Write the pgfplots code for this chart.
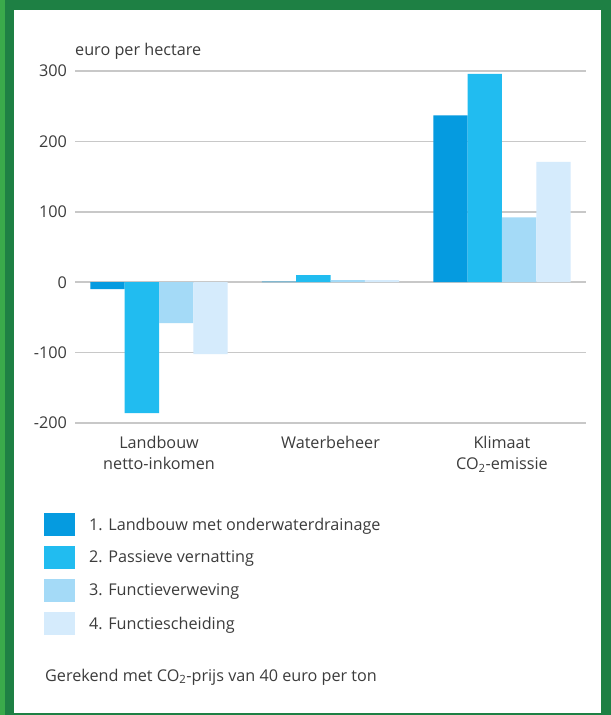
\documentclass[border=0pt]{standalone}
\usepackage{pgfplots}
\pgfplotsset{compat=1.18}
\usepackage{fontspec}
\setmainfont{Open Sans}
\definecolor{cA}{RGB}{5,155,224}
\definecolor{cB}{RGB}{33,188,240}
\definecolor{cC}{RGB}{164,218,247}
\definecolor{cD}{RGB}{213,235,252}
\definecolor{txt}{RGB}{60,60,60}
\definecolor{gridc}{RGB}{200,200,200}
\definecolor{gdark}{RGB}{30,128,68}
\definecolor{glight}{RGB}{58,170,75}
\begin{document}
\begin{tikzpicture}[font=\fontsize{16.2bp}{21bp}\selectfont, every node/.append style={text=txt}]
\fill[gdark] (0bp,0bp) rectangle (611bp,-715bp);
\fill[glight] (0bp,0bp) rectangle (5bp,-715bp);
\fill[white] (14bp,-10bp) rectangle (601bp,-713bp);
\begin{axis}[
  at={(75bp,-423bp)}, anchor=south west, scale only axis,
  width=511bp, height=352bp,
  xmin=-0.49, xmax=2.49, ymin=-200, ymax=300,
  ybar=0pt, bar width=0.2,
  axis line style={draw=none}, major tick length=0pt,
  ymajorgrids, grid style={gridc, line width=1.5bp},
  ytick={-200,-100,0,100,200,300},
  yticklabels={-200,-100,0,100,200,300},
  yticklabel style={inner sep=0pt, xshift=-8bp},
  xtick={0,1,2},
  xticklabels={{Landbouw\\netto-inkomen},{Waterbeheer},{Klimaat\\CO\textsubscript{2}-emissie}},
  xticklabel style={align=center, inner sep=0pt, yshift=-13bp},
  title={euro per hectare},
  title style={at={(rel axis cs:0,1)}, anchor=west, inner sep=0pt, yshift=14bp},
  legend style={at={(rel axis cs:-0.0607,-0.2557)}, anchor=north west, draw=none, fill=none,
    inner sep=0pt, row sep=10bp, column sep=12bp, cells={anchor=west}},
  legend image code/.code={\path[#1,draw=none] (0bp,-11.5bp) rectangle (31bp,11.5bp);},
]
\addplot[fill=cA, draw=none] coordinates {(0,-10) (1,1) (2,237)};
\addplot[fill=cB, draw=none] coordinates {(0,-186) (1,10) (2,296)};
\addplot[fill=cC, draw=none] coordinates {(0,-58) (1,3) (2,92)};
\addplot[fill=cD, draw=none] coordinates {(0,-102) (1,3) (2,171)};
\legend{1. Landbouw met onderwaterdrainage, 2. Passieve vernatting, 3. Functieverweving, 4. Functiescheiding}
\end{axis}
\node[anchor=west, inner sep=0pt] at (45bp,-677bp) {Gerekend met CO\textsubscript{2}-prijs van 40 euro per ton};
\end{tikzpicture}
\end{document}
